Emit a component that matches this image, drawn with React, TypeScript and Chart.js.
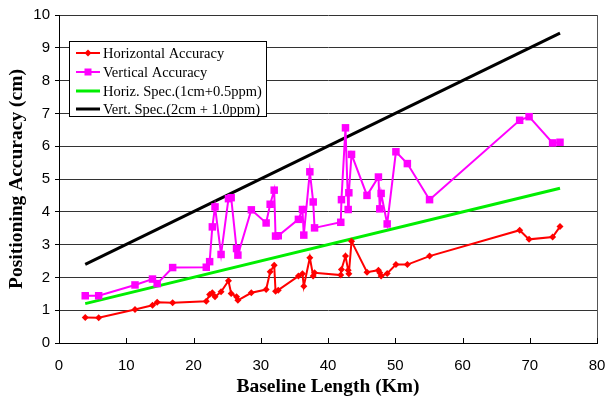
import React, { useEffect, useRef } from 'react';
import { Chart, registerables } from 'chart.js';

Chart.register(...registerables);

// ---- data ----
const baselineKm = [
  3.9, 5.9, 11.3, 13.9, 14.6, 16.9, 21.9, 22.4, 22.8, 23.2, 24.1, 25.2, 25.6, 26.4, 26.6, 28.6,
  30.8, 31.4, 32.0, 32.2, 32.6, 35.6, 36.2, 36.4, 37.3, 37.8, 38.0, 41.9, 42.0, 42.6, 43.0, 43.1,
  43.5, 45.8, 47.5, 47.7, 47.9, 48.8, 50.1, 51.8, 55.1, 68.5, 69.9, 73.4, 74.5,
];
const horizontalAccuracy = [
  0.78, 0.77, 1.02, 1.15, 1.24, 1.23, 1.27, 1.48, 1.53, 1.41, 1.56, 1.9, 1.51, 1.41, 1.3, 1.53,
  1.63, 2.17, 2.37, 1.58, 1.61, 2.04, 2.11, 1.73, 2.6, 2.04, 2.14, 2.07, 2.24, 2.65, 2.22, 2.11,
  3.1, 2.16, 2.22, 2.14, 2.04, 2.12, 2.39, 2.39, 2.65, 3.44, 3.16, 3.23, 3.55,
];
const verticalAccuracy = [
  1.44, 1.44, 1.77, 1.95, 1.81, 2.3, 2.31, 2.48, 3.54, 4.15, 2.7, 4.4, 4.43, 2.88, 2.68, 4.06,
  3.66, 4.23, 4.66, 3.26, 3.27, 3.77, 4.07, 3.29, 5.22, 4.3, 3.51, 3.68, 4.37, 6.56, 4.07, 4.58,
  5.75, 4.5, 5.06, 4.09, 4.56, 3.63, 5.83, 5.47, 4.37, 6.79, 6.9, 6.1, 6.12,
];
const specKm = [3.9, 74.5];
const horizSpec = [1.2, 4.72];
const vertSpec = [2.4, 9.45];
const xTicks = [0, 10, 20, 30, 40, 50, 60, 70, 80];
const yTicks = [0, 1, 2, 3, 4, 5, 6, 7, 8, 9, 10];
const seriesLabels = [
  'Horizontal Accuracy',
  'Vertical Accuracy',
  'Horiz. Spec.(1cm+0.5ppm)',
  'Vert. Spec.(2cm + 1.0ppm)',
];

const RED = '#ff0000';
const MAGENTA = '#ff00ff';
const GREEN = '#00ee00';
const BLACK = '#000000';

const toPoints = (xs: number[], ys: number[]) => xs.map((x, i) => ({ x, y: ys[i] }));

const decorPlugin = {
  id: 'decor',
  afterDraw(chart: any) {
    const { ctx, chartArea } = chart;
    const xs = chart.scales.x;
    ctx.save();
    // right border
    ctx.strokeStyle = '#555';
    ctx.lineWidth = 1;
    ctx.beginPath();
    ctx.moveTo(Math.round(chartArea.right) + 0.5, chartArea.top);
    ctx.lineTo(Math.round(chartArea.right) + 0.5, chartArea.bottom);
    ctx.stroke();
    // inner x ticks
    ctx.strokeStyle = '#000';
    xTicks.forEach((v) => {
      const px = Math.round(xs.getPixelForValue(v)) + 0.5;
      ctx.beginPath();
      ctx.moveTo(px, chartArea.bottom);
      ctx.lineTo(px, chartArea.bottom - 5);
      ctx.stroke();
    });
    // legend
    const bx = 69.5, by = 41.5, bw = 197, bh = 75;
    ctx.fillStyle = '#fff';
    ctx.fillRect(bx, by, bw, bh);
    ctx.strokeStyle = '#000';
    ctx.lineWidth = 1;
    ctx.strokeRect(bx, by, bw, bh);
    const colors = [RED, MAGENTA, GREEN, BLACK];
    const widths = [2, 2, 3, 3];
    const rows = [53, 72, 91, 109];
    ctx.font = '14.5px "Liberation Serif"';
    ctx.textBaseline = 'middle';
    ctx.textAlign = 'left';
    seriesLabels.forEach((lab, i) => {
      const y = rows[i];
      ctx.strokeStyle = colors[i];
      ctx.lineWidth = widths[i];
      ctx.beginPath();
      ctx.moveTo(76, y);
      ctx.lineTo(100, y);
      ctx.stroke();
      ctx.fillStyle = colors[i];
      if (i === 0) {
        ctx.beginPath();
        ctx.moveTo(88, y - 3.5);
        ctx.lineTo(91.5, y);
        ctx.lineTo(88, y + 3.5);
        ctx.lineTo(84.5, y);
        ctx.closePath();
        ctx.fill();
      } else if (i === 1) {
        ctx.fillRect(84.5, y - 3.5, 7, 7);
      }
      ctx.fillStyle = '#000';
      ctx.fillText(lab, 103, y + 1);
    });
    ctx.restore();
  },
};

export default function App() {
  const ref = useRef<HTMLCanvasElement | null>(null);
  useEffect(() => {
    document.body.style.margin = '0';
    const canvas = ref.current;
    if (!canvas) return;
    const chart = new Chart(canvas, {
      type: 'scatter',
      data: {
        datasets: [
          {
            label: seriesLabels[0],
            data: toPoints(baselineKm, horizontalAccuracy),
            showLine: true,
            borderColor: RED,
            backgroundColor: RED,
            borderWidth: 2,
            pointStyle: 'rectRot',
            pointRadius: 3.5,
            pointBorderWidth: 0,
          },
          {
            label: seriesLabels[1],
            data: toPoints(baselineKm, verticalAccuracy),
            showLine: true,
            borderColor: MAGENTA,
            backgroundColor: MAGENTA,
            borderWidth: 2,
            pointStyle: 'rect',
            pointRadius: 5.3,
            pointBorderWidth: 0,
          },
          {
            label: seriesLabels[2],
            data: toPoints(specKm, horizSpec),
            showLine: true,
            borderColor: GREEN,
            borderWidth: 3,
            pointRadius: 0,
          },
          {
            label: seriesLabels[3],
            data: toPoints(specKm, vertSpec),
            showLine: true,
            borderColor: BLACK,
            borderWidth: 3,
            pointRadius: 0,
          },
        ],
      },
      options: {
        animation: false,
        responsive: false,
        layout: { padding: { top: 15, right: 11, left: 0, bottom: 0 } },
        plugins: { legend: { display: false }, tooltip: { enabled: false } },
        scales: {
          x: {
            type: 'linear',
            min: 0,
            max: 80,
            afterBuildTicks: (s: any) => {
              s.ticks = xTicks.map((v) => ({ value: v }));
            },
            afterFit: (s: any) => {
              s.height = 60;
              s.paddingLeft = 0;
              s.paddingRight = 0;
            },
            grid: { display: false, drawTicks: false },
            border: { display: true, color: '#000', width: 1 },
            ticks: {
              padding: 14,
              color: '#000',
              font: { family: '"Liberation Sans"', size: 15 },
            },
            title: {
              display: true,
              text: 'Baseline Length (Km)',
              color: '#000',
              font: { family: '"Liberation Serif"', size: 19.5, weight: 'bold' },
              padding: { top: 0, bottom: 4 },
            },
          },
          y: {
            type: 'linear',
            min: 0,
            max: 10,
            afterBuildTicks: (s: any) => {
              s.ticks = yTicks.map((v) => ({ value: v }));
            },
            afterFit: (s: any) => {
              s.width = 59;
              s.paddingTop = 0;
              s.paddingBottom = 0;
            },
            grid: { color: '#333', lineWidth: 1, tickLength: 4, tickColor: '#000' },
            border: { display: true, color: '#000', width: 1 },
            ticks: {
              padding: 5,
              color: '#000',
              font: { family: '"Liberation Sans"', size: 15 },
            },
            title: {
              display: true,
              text: 'Positioning Accuracy (cm)',
              color: '#000',
              font: { family: '"Liberation Serif"', size: 19.5, weight: 'bold' },
              padding: { top: 5, bottom: 0 },
            },
          },
        },
      },
      plugins: [decorPlugin],
    });
    return () => chart.destroy();
  }, []);
  return <canvas ref={ref} width={608} height={403} style={{ display: 'block' }} />;
}
